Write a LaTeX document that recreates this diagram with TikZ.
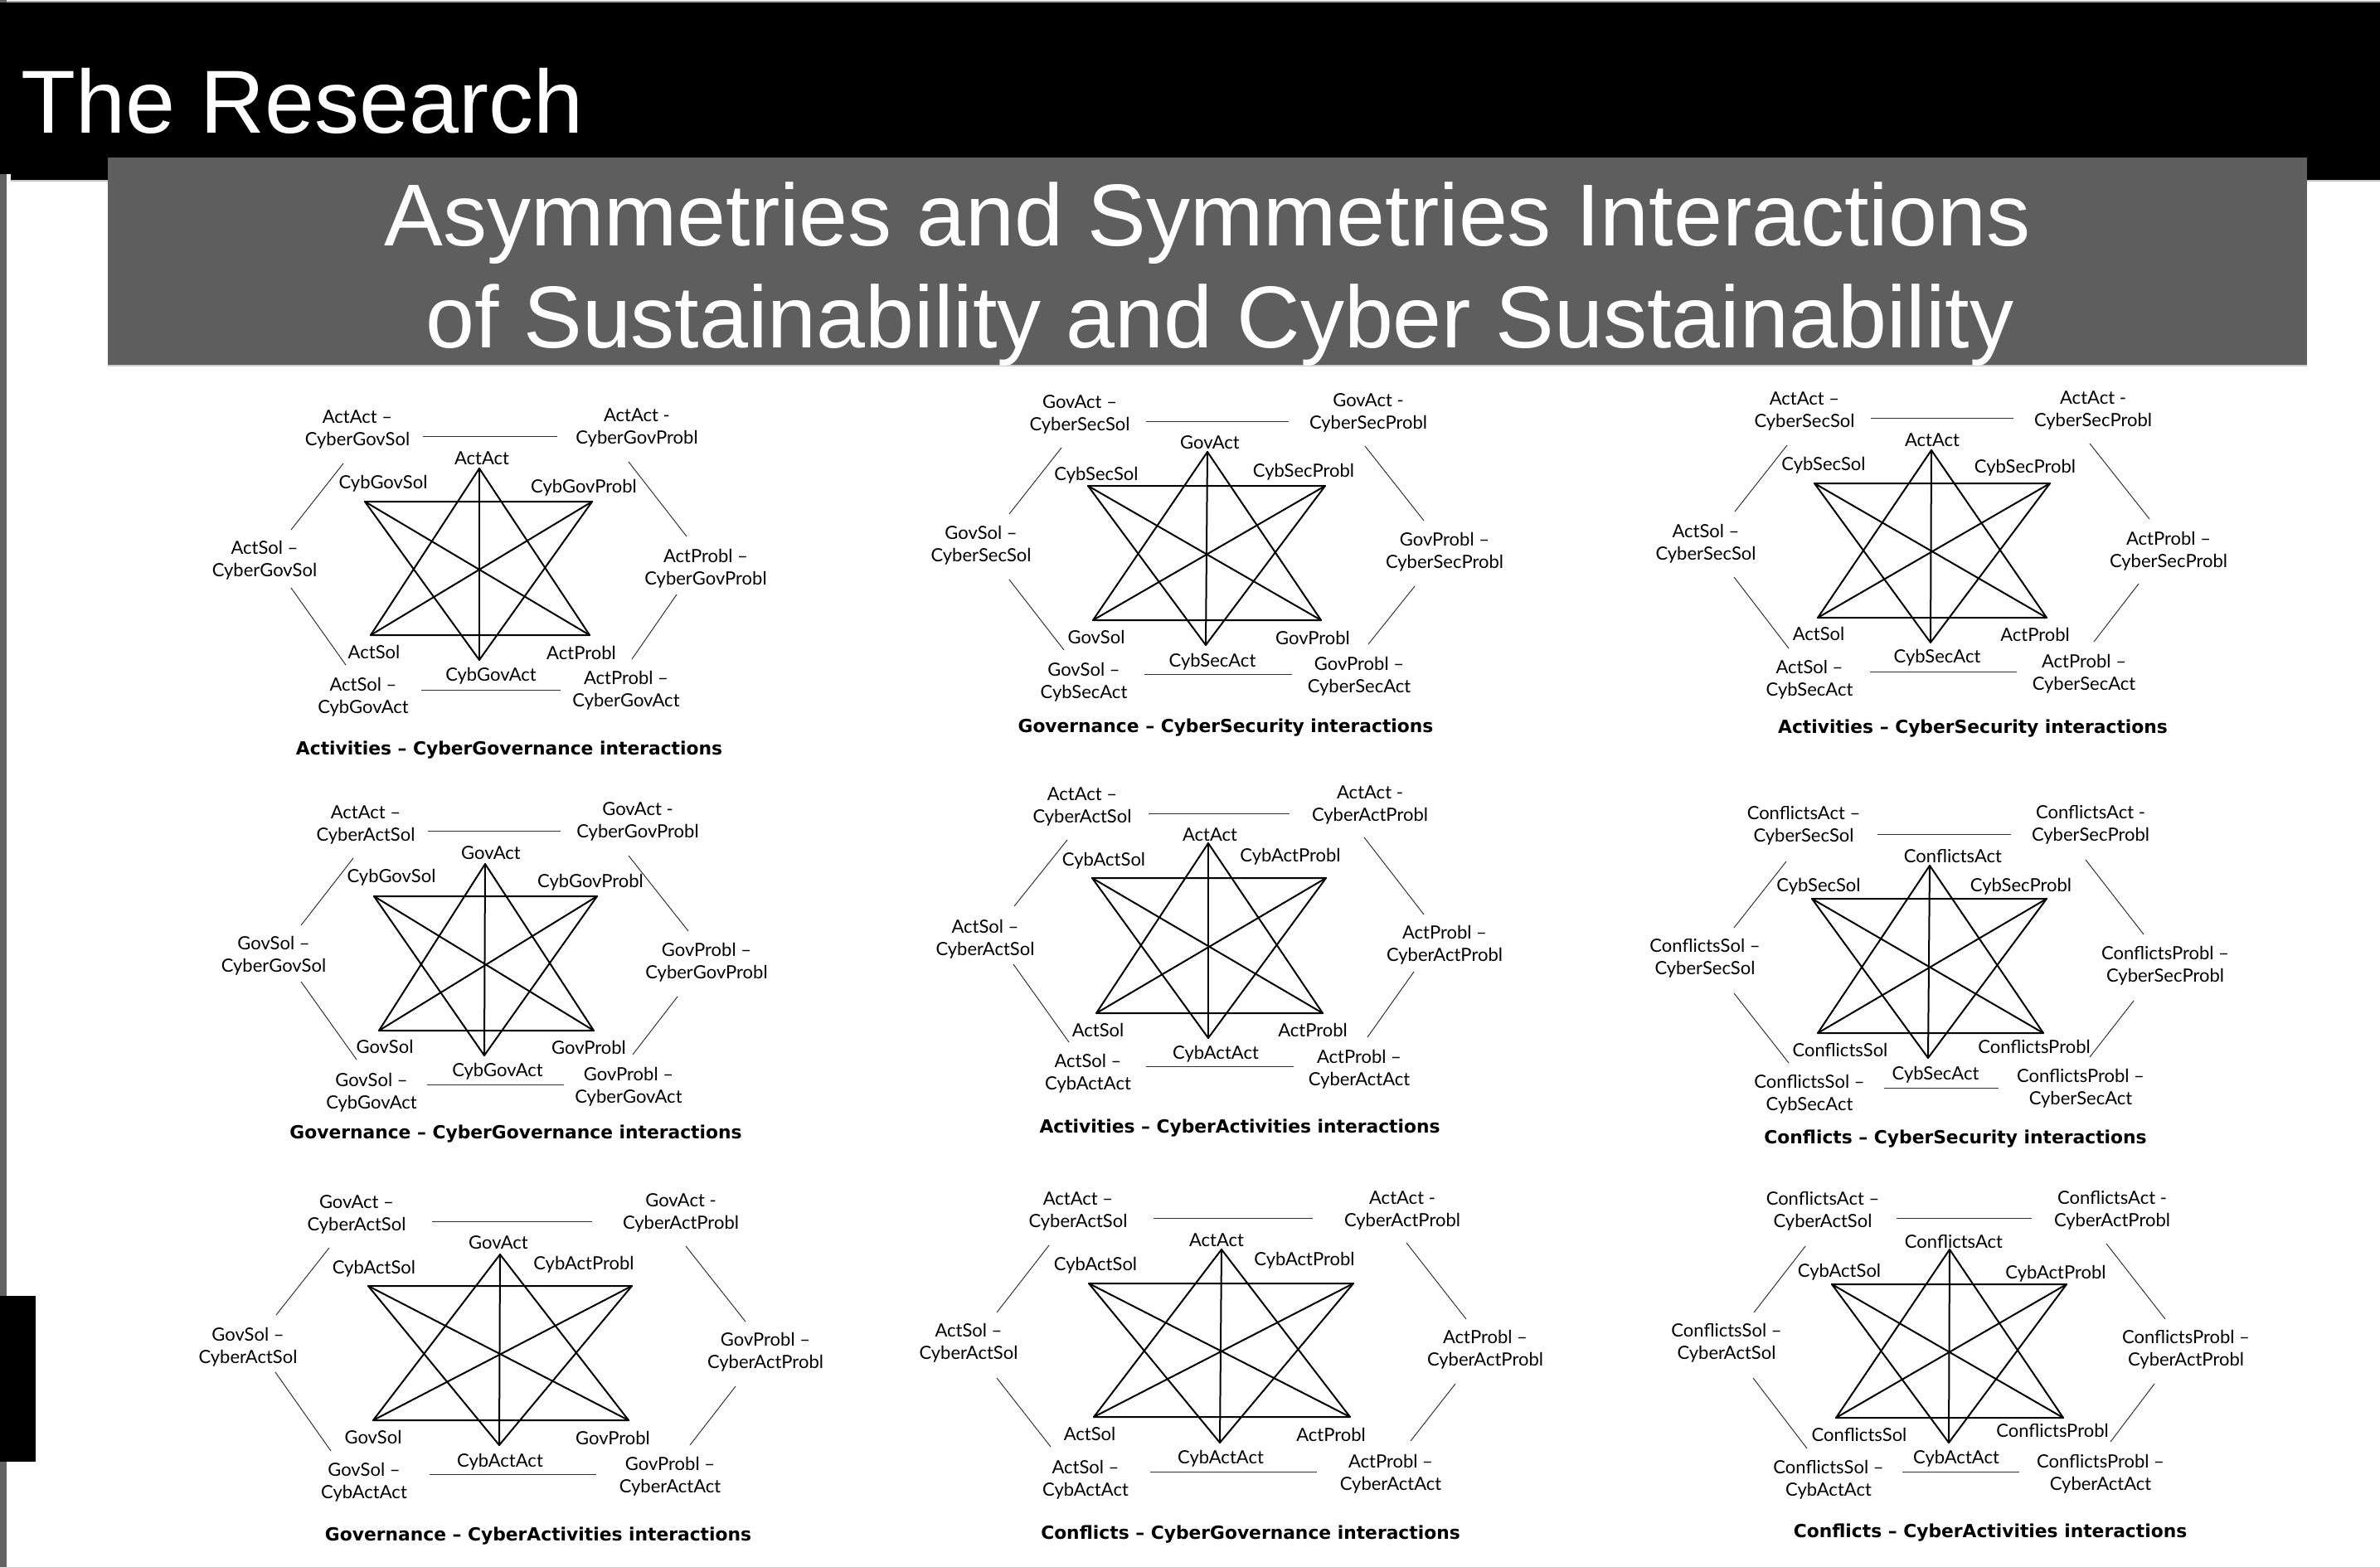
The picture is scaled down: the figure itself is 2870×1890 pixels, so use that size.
\documentclass[tikz,border=0pt]{standalone}
\usepackage{fontspec}
\newfontfamily\labelfont{Lato}
\newfontfamily\capfont{DejaVu Sans}
\newfontfamily\headfont{Liberation Sans}
\definecolor{boxgray}{RGB}{94,94,94}
\definecolor{stripgray}{RGB}{98,98,98}

\tikzset{
  starline/.style={line width=2pt, line cap=round, line join=round},
  link/.style={line width=1pt, black!80},
  lbl/.style={inner sep=0pt, font=\labelfont\fontsize{22}{26.5}\selectfont, text height=15.5pt, text depth=0pt},
  pair/.style={inner sep=0pt, font=\labelfont\fontsize{22}{26.5}\selectfont, align=center, yshift=2pt},
  caption/.style={inner sep=0pt, font=\capfont\bfseries\fontsize{21.8}{26}\selectfont, text height=15.8pt, text depth=0pt},
  headline/.style={inner sep=0pt, text=white, font=\headfont\fontsize{106}{120}\selectfont},
}

% six corners of a hexagram: top, top-left, top-right, bottom-left, bottom-right, bottom
\newcommand\vertices[7]{%
  \coordinate (#1T) at (#2);
  \coordinate (#1TL) at (#3);
  \coordinate (#1TR) at (#4);
  \coordinate (#1BL) at (#5);
  \coordinate (#1BR) at (#6);
  \coordinate (#1B) at (#7);}

% two triangles plus the three long diagonals
\newcommand\hexstar[1]{%
  \draw[starline] (#1T) -- (#1BL) -- (#1BR) -- cycle;
  \draw[starline] (#1TL) -- (#1TR) -- (#1B) -- cycle;
  \draw[starline] (#1T) -- (#1B);
  \draw[starline] (#1TL) -- (#1BR);
  \draw[starline] (#1TR) -- (#1BL);}

% thin outer link between two named end points
\newcommand\seg[5]{%
  \coordinate (#1s) at (#2,#3);
  \coordinate (#1e) at (#4,#5);
  \draw[link] (#1s) -- (#1e);}

\begin{document}
\begin{tikzpicture}[x=1pt,y=-1pt]
\useasboundingbox (0,0) rectangle (2870,1890);
\fill[white] (0,0) rectangle (2870,1890);

% ---- header ----
\fill[gray!70] (0,0.5) rectangle (2870,2.5);
\fill[stripgray] (0,0) rectangle (8,1890);
\fill[black] (0,2.5) rectangle (2870,210);
\fill[black] (13,210) rectangle (2870,217);
\fill[gray!45] (13,217) rectangle (2870,218.5);
\fill[black] (0,1563) rectangle (43,1763);
\fill[boxgray] (130,190) rectangle (2782,440);
\fill[gray!40] (130,440) rectangle (2782,441.5);

\node[headline, anchor=base west, font=\headfont\fontsize{108}{120}\selectfont] (head) at (25,160) {The Research};
\node[headline, anchor=base] (sub1) at (1456,296) {Asymmetries and Symmetries Interactions};
\node[headline, anchor=base] (sub2) at (1471,419) {of Sustainability and Cyber Sustainability};

% ---- panel a: Activities - CyberGovernance ----
\vertices{a}{578,565}{440,605}{714,605}{447,766}{711,766}{578,796}
\hexstar{a}
\node[lbl] (a-n1) at (581,553) {ActAct};
\node[lbl] (a-n2) at (462,582) {CybGovSol};
\node[lbl] (a-n3) at (704,587) {CybGovProbl};
\node[lbl] (a-n4) at (451,787) {ActSol};
\node[lbl] (a-n5) at (701,788) {ActProbl};
\node[lbl] (a-n6) at (592,814) {CybGovAct};
\node[pair] (a-o1) at (431,520) {ActAct –\\CyberGovSol};
\node[pair] (a-o2) at (768,518) {ActAct -\\CyberGovProbl};
\node[pair] (a-o3) at (319,678) {ActSol –\\CyberGovSol};
\node[pair] (a-o4) at (851,688) {ActProbl –\\CyberGovProbl};
\node[pair] (a-o5) at (438,843) {ActSol –\\CybGovAct};
\node[pair] (a-o6) at (755,835) {ActProbl –\\CyberGovAct};
\seg{a1}{510}{526}{672}{526}
\seg{a2}{414}{559}{351}{639}
\seg{a3}{758}{557}{828}{647}
\seg{a4}{351}{709}{417}{802}
\seg{a5}{816}{717}{762}{795}
\seg{a6}{508}{832}{676}{832}
\node[caption] (a-cap) at (614,903) {Activities – CyberGovernance interactions};

% ---- panel b: Governance - CyberSecurity ----
\vertices{b}{1456,545}{1312,586}{1598,586}{1318,748}{1593,748}{1454,778}
\hexstar{b}
\node[lbl] (b-n1) at (1459,534) {GovAct};
\node[lbl] (b-n2) at (1322,572) {CybSecSol};
\node[lbl] (b-n3) at (1572,568) {CybSecProbl};
\node[lbl] (b-n4) at (1322,769) {GovSol};
\node[lbl] (b-n5) at (1583,770) {GovProbl};
\node[lbl] (b-n6) at (1462,797) {CybSecAct};
\node[pair] (b-o1) at (1302,502) {GovAct –\\CyberSecSol};
\node[pair] (b-o2) at (1650,500) {GovAct -\\CyberSecProbl};
\node[pair] (b-o3) at (1183,660) {GovSol –\\CyberSecSol};
\node[pair] (b-o4) at (1742,668) {GovProbl –\\CyberSecProbl};
\node[pair] (b-o5) at (1307,825) {GovSol –\\CybSecAct};
\node[pair] (b-o6) at (1639,818) {GovProbl –\\CyberSecAct};
\seg{b1}{1382}{508}{1554}{508}
\seg{b2}{1280}{540}{1217}{620}
\seg{b3}{1646}{538}{1717}{628}
\seg{b4}{1217}{699}{1283}{784}
\seg{b5}{1706}{707}{1650}{777}
\seg{b6}{1380}{813}{1558}{813}
\node[caption] (b-cap) at (1478,876) {Governance – CyberSecurity interactions};

% ---- panel c: Activities - CyberSecurity ----
\vertices{c}{2329,543}{2188,583}{2472,583}{2192,745}{2468,745}{2328,775}
\hexstar{c}
\node[lbl] (c-n1) at (2330,531) {ActAct};
\node[lbl] (c-n2) at (2199,560) {CybSecSol};
\node[lbl] (c-n3) at (2442,563) {CybSecProbl};
\node[lbl] (c-n4) at (2193,765) {ActSol};
\node[lbl] (c-n5) at (2454,766) {ActProbl};
\node[lbl] (c-n6) at (2336,792) {CybSecAct};
\node[pair] (c-o1) at (2176,498) {ActAct –\\CyberSecSol};
\node[pair] (c-o2) at (2524,497) {ActAct -\\CyberSecProbl};
\node[pair] (c-o3) at (2057,658) {ActSol –\\CyberSecSol};
\node[pair] (c-o4) at (2615,667) {ActProbl –\\CyberSecProbl};
\node[pair] (c-o5) at (2182,822) {ActSol –\\CybSecAct};
\node[pair] (c-o6) at (2513,815) {ActProbl –\\CyberSecAct};
\seg{c1}{2256}{504}{2428}{504}
\seg{c2}{2155}{537}{2092}{617}
\seg{c3}{2520}{535}{2592}{626}
\seg{c4}{2091}{696}{2157}{782}
\seg{c5}{2579}{704}{2525}{774}
\seg{c6}{2255}{810}{2432}{810}
\node[caption] (c-cap) at (2379,877) {Activities – CyberSecurity interactions};

% ---- panel d: Governance - CyberGovernance ----
\vertices{d}{585,1042}{451,1081}{720,1081}{457,1243}{716,1243}{584,1273}
\hexstar{d}
\node[lbl] (d-n1) at (592,1029) {GovAct};
\node[lbl] (d-n2) at (472,1057) {CybGovSol};
\node[lbl] (d-n3) at (712,1063) {CybGovProbl};
\node[lbl] (d-n4) at (464,1263) {GovSol};
\node[lbl] (d-n5) at (710,1264) {GovProbl};
\node[lbl] (d-n6) at (600,1291) {CybGovAct};
\node[pair] (d-o1) at (441,997) {ActAct –\\CyberActSol};
\node[pair] (d-o2) at (769,993) {GovAct -\\CyberGovProbl};
\node[pair] (d-o3) at (330,1155) {GovSol –\\CyberGovSol};
\node[pair] (d-o4) at (852,1163) {GovProbl –\\CyberGovProbl};
\node[pair] (d-o5) at (448,1320) {GovSol –\\CybGovAct};
\node[pair] (d-o6) at (758,1313) {GovProbl –\\CyberGovAct};
\seg{d1}{516}{1002}{676}{1002}
\seg{d2}{426}{1035}{363}{1116}
\seg{d3}{758}{1032}{830}{1123}
\seg{d4}{363}{1184}{430}{1278}
\seg{d5}{817}{1202}{763}{1272}
\seg{d6}{515}{1308}{680}{1308}
\node[caption] (d-cap) at (622,1366) {Governance – CyberGovernance interactions};

% ---- panel e: Activities - CyberActivities ----
\vertices{e}{1457,1017}{1317,1059}{1599,1059}{1322,1222}{1595,1222}{1457,1252}
\hexstar{e}
\node[lbl] (e-n1) at (1459,1007) {ActAct};
\node[lbl] (e-n2) at (1331,1037) {CybActSol};
\node[lbl] (e-n3) at (1556,1032) {CybActProbl};
\node[lbl] (e-n4) at (1324,1243) {ActSol};
\node[lbl] (e-n5) at (1583,1243) {ActProbl};
\node[lbl] (e-n6) at (1466,1270) {CybActAct};
\node[pair] (e-o1) at (1305,975) {ActAct –\\CyberActSol};
\node[pair] (e-o2) at (1652,973) {ActAct -\\CyberActProbl};
\node[pair] (e-o3) at (1188,1135) {ActSol –\\CyberActSol};
\node[pair] (e-o4) at (1742,1142) {ActProbl –\\CyberActProbl};
\node[pair] (e-o5) at (1312,1297) {ActSol –\\CybActAct};
\node[pair] (e-o6) at (1639,1292) {ActProbl –\\CyberActAct};
\seg{e1}{1385}{981}{1555}{981}
\seg{e2}{1287}{1013}{1223}{1093}
\seg{e3}{1645}{1010}{1717}{1103}
\seg{e4}{1222}{1163}{1289}{1257}
\seg{e5}{1705}{1172}{1649}{1251}
\seg{e6}{1382}{1286}{1560}{1286}
\node[caption] (e-cap) at (1495,1359) {Activities – CyberActivities interactions};

% ---- panel f: Conflicts - CyberSecurity ----
\vertices{f}{2327,1044}{2185,1084}{2468,1084}{2192,1246}{2464,1246}{2325,1276}
\hexstar{f}
\node[lbl] (f-n1) at (2355,1033) {ConflictsAct};
\node[lbl] (f-n2) at (2193,1068) {CybSecSol};
\node[lbl] (f-n3) at (2437,1068) {CybSecProbl};
\node[lbl] (f-n4) at (2219,1267) {ConflictsSol};
\node[lbl] (f-n5) at (2453,1263) {ConflictsProbl};
\node[lbl] (f-n6) at (2334,1295) {CybSecAct};
\node[pair] (f-o1) at (2175,998) {ConflictsAct –\\CyberSecSol};
\node[pair] (f-o2) at (2521,997) {ConflictsAct -\\CyberSecProbl};
\node[pair] (f-o3) at (2056,1158) {ConflictsSol –\\CyberSecSol};
\node[pair] (f-o4) at (2611,1167) {ConflictsProbl –\\CyberSecProbl};
\node[pair] (f-o5) at (2182,1322) {ConflictsSol –\\CybSecAct};
\node[pair] (f-o6) at (2509,1315) {ConflictsProbl –\\CyberSecAct};
\seg{f1}{2264}{1006}{2425}{1006}
\seg{f2}{2154}{1039}{2091}{1119}
\seg{f3}{2515}{1037}{2585}{1127}
\seg{f4}{2091}{1198}{2157}{1282}
\seg{f5}{2573}{1207}{2520}{1275}
\seg{f6}{2272}{1312}{2410}{1312}
\node[caption] (f-cap) at (2358,1372) {Conflicts – CyberSecurity interactions};

% ---- panel g: Governance - CyberActivities ----
\vertices{g}{603,1513}{444,1551}{762,1551}{450,1713}{758,1713}{602,1743}
\hexstar{g}
\node[lbl] (g-n1) at (601,1499) {GovAct};
\node[lbl] (g-n2) at (451,1529) {CybActSol};
\node[lbl] (g-n3) at (704,1524) {CybActProbl};
\node[lbl] (g-n4) at (450,1734) {GovSol};
\node[lbl] (g-n5) at (739,1735) {GovProbl};
\node[lbl] (g-n6) at (603,1762) {CybActAct};
\node[pair] (g-o1) at (430,1467) {GovAct –\\CyberActSol};
\node[pair] (g-o2) at (821,1465) {GovAct -\\CyberActProbl};
\node[pair] (g-o3) at (299,1627) {GovSol –\\CyberActSol};
\node[pair] (g-o4) at (923,1633) {GovProbl –\\CyberActProbl};
\node[pair] (g-o5) at (439,1790) {GovSol –\\CybActAct};
\node[pair] (g-o6) at (808,1783) {GovProbl –\\CyberActAct};
\seg{g1}{521}{1473}{714}{1473}
\seg{g2}{397}{1505}{333}{1586}
\seg{g3}{827}{1503}{899}{1594}
\seg{g4}{332}{1655}{399}{1750}
\seg{g5}{887}{1672}{832}{1743}
\seg{g6}{518}{1778}{719}{1778}
\node[caption] (g-cap) at (649,1851) {Governance – CyberActivities interactions};

% ---- panel h: Conflicts - CyberGovernance ----
\vertices{h}{1473,1507}{1313,1548}{1632,1548}{1319,1709}{1628,1709}{1471,1740}
\hexstar{h}
\node[lbl] (h-n1) at (1467,1496) {ActAct};
\node[lbl] (h-n2) at (1321,1525) {CybActSol};
\node[lbl] (h-n3) at (1573,1519) {CybActProbl};
\node[lbl] (h-n4) at (1314,1730) {ActSol};
\node[lbl] (h-n5) at (1605,1731) {ActProbl};
\node[lbl] (h-n6) at (1472,1758) {CybActAct};
\node[pair] (h-o1) at (1300,1463) {ActAct –\\CyberActSol};
\node[pair] (h-o2) at (1691,1462) {ActAct -\\CyberActProbl};
\node[pair] (h-o3) at (1168,1622) {ActSol –\\CyberActSol};
\node[pair] (h-o4) at (1791,1630) {ActProbl –\\CyberActProbl};
\node[pair] (h-o5) at (1309,1787) {ActSol –\\CybActAct};
\node[pair] (h-o6) at (1677,1780) {ActProbl –\\CyberActAct};
\seg{h1}{1391}{1469}{1583}{1469}
\seg{h2}{1265}{1502}{1202}{1583}
\seg{h3}{1696}{1499}{1768}{1591}
\seg{h4}{1202}{1662}{1267}{1745}
\seg{h5}{1755}{1669}{1701}{1738}
\seg{h6}{1387}{1775}{1588}{1775}
\node[caption] (h-cap) at (1508,1849) {Conflicts – CyberGovernance interactions};

% ---- panel i: Conflicts - CyberActivities ----
\vertices{i}{2351,1507}{2209,1549}{2492,1549}{2214,1710}{2488,1710}{2350,1740}
\hexstar{i}
\node[lbl] (i-n1) at (2356,1498) {ConflictsAct};
\node[lbl] (i-n2) at (2218,1533) {CybActSol};
\node[lbl] (i-n3) at (2479,1535) {CybActProbl};
\node[lbl] (i-n4) at (2242,1731) {ConflictsSol};
\node[lbl] (i-n5) at (2475,1726) {ConflictsProbl};
\node[lbl] (i-n6) at (2359,1758) {CybActAct};
\node[pair] (i-o1) at (2198,1463) {ConflictsAct –\\CyberActSol};
\node[pair] (i-o2) at (2547,1462) {ConflictsAct -\\CyberActProbl};
\node[pair] (i-o3) at (2082,1622) {ConflictsSol –\\CyberActSol};
\node[pair] (i-o4) at (2636,1630) {ConflictsProbl –\\CyberActProbl};
\node[pair] (i-o5) at (2205,1787) {ConflictsSol –\\CybActAct};
\node[pair] (i-o6) at (2533,1780) {ConflictsProbl –\\CyberActAct};
\seg{i1}{2287}{1469}{2450}{1469}
\seg{i2}{2177}{1503}{2115}{1583}
\seg{i3}{2540}{1500}{2611}{1591}
\seg{i4}{2114}{1662}{2179}{1747}
\seg{i5}{2598}{1669}{2545}{1739}
\seg{i6}{2294}{1775}{2435}{1775}
\node[caption] (i-cap) at (2400,1847) {Conflicts – CyberActivities interactions};
\end{tikzpicture}
\end{document}
